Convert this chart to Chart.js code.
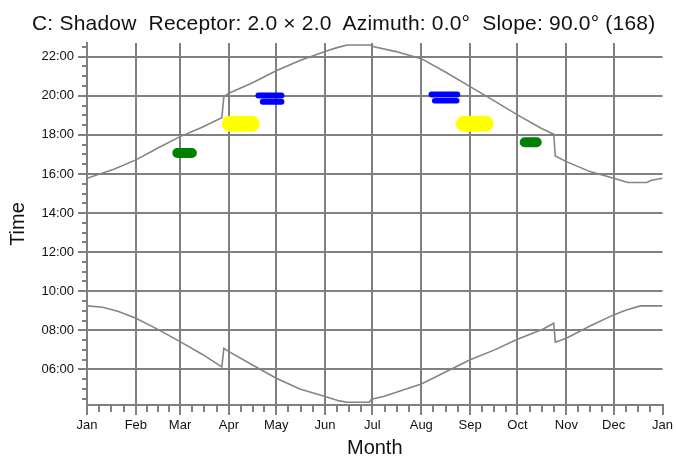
<!DOCTYPE html>
<html>
<head>
<meta charset="utf-8">
<script src="https://cdn.jsdelivr.net/npm/chart.js@4.4.0/dist/chart.umd.min.js"></script>
<style>
  html, body { margin: 0; padding: 0; background: #fff; }
  #wrap { position: relative; width: 676px; height: 459px; }
  #title {
    position: absolute; left: 32px; top: 12px;
    font: 21px "Liberation Sans", Arial, sans-serif; line-height: 21px;
    letter-spacing: 0.2px; color: #111; white-space: pre;
  }
  canvas { position: absolute; left: 0; top: 0; }
</style>
</head>
<body>
<div id="wrap">
  <canvas id="c" width="676" height="459"></canvas>
  <div id="title">C: Shadow  Receptor: 2.0 × 2.0  Azimuth: 0.0°  Slope: 90.0° (168)</div>
</div>
<script>
// axis ticks (day of year for month starts, hours for time grid)
const monthLabels = ["Jan", "Feb", "Mar", "Apr", "May", "Jun", "Jul", "Aug", "Sep", "Oct", "Nov", "Dec", "Jan"];
const monthStarts = [0, 31, 59, 90, 120, 151, 181, 212, 243, 273, 304, 334, 365];
const hourTicks = [6, 8, 10, 12, 14, 16, 18, 20, 22];

// sunset line (upper curve), hours
const sunsetDays  = [0, 17, 31, 45, 59, 73, 85.5, 86.8, 90, 105, 120, 135, 151, 158, 165, 180, 182, 196, 212, 227, 243, 258, 273, 288, 296, 297, 304, 319, 334, 343, 355, 358, 365];
const sunsetHours = [15.78, 16.24, 16.72, 17.33, 17.91, 18.39, 18.88, 19.95, 20.13, 20.67, 21.28, 21.8, 22.26, 22.45, 22.6, 22.6, 22.51, 22.26, 21.9, 21.23, 20.47, 19.75, 19.02, 18.34, 18.03, 16.92, 16.63, 16.12, 15.78, 15.56, 15.56, 15.68, 15.78];

// sunrise line (lower curve), hours
const sunriseDays  = [0, 10, 20, 31, 45, 59, 73, 85.5, 86.8, 90, 105, 120, 135, 151, 160, 165, 179, 180.4, 188, 200.5, 212, 228, 243, 258.5, 273, 289, 296, 297, 304, 319, 334, 342, 351, 365];
const sunriseHours = [9.25, 9.18, 8.96, 8.62, 8.05, 7.42, 6.78, 6.13, 7.08, 6.91, 6.23, 5.55, 5.0, 4.61, 4.39, 4.32, 4.32, 4.48, 4.61, 4.95, 5.26, 5.89, 6.49, 7.0, 7.54, 8.06, 8.36, 7.39, 7.6, 8.22, 8.79, 9.04, 9.25, 9.25];

// shadow periods: [first day, last day] and time of day
const shadowDays  = [[57.3, 66.5], [277.6, 285.2], [90.6, 104.4], [239, 252.7], [108.7, 123.3], [111.5, 123.3], [218.5, 234.8], [220.5, 234.5]];
const shadowHours = [17.07, 17.62, 18.57, 18.57, 20.02, 19.70, 20.06, 19.74];
// style per shadow period
const shadowStyle = [
  { color: "#008000", width: 10 }, { color: "#008000", width: 10 },
  { color: "#ffff00", width: 16 }, { color: "#ffff00", width: 16 },
  { color: "#0000ff", width: 6 },  { color: "#0000ff", width: 6 },
  { color: "#0000ff", width: 6 },  { color: "#0000ff", width: 5.5 }
];

const FONT = "'Liberation Sans', Arial, sans-serif";
const GRID = "#808080";
const TXT = "#111";

const pad2 = n => String(n).padStart(2, "0");
const toXY = (xs, ys) => xs.map((d, i) => ({ x: d, y: ys[i] }));

const shadowSets = shadowDays.map((d, i) => ({
  type: "line",
  data: toXY(d, [shadowHours[i], shadowHours[i]]),
  borderColor: shadowStyle[i].color,
  borderWidth: shadowStyle[i].width,
  borderCapStyle: "round",
  pointRadius: 0,
  xAxisID: "x", yAxisID: "y",
  order: 2
}));

const curveSet = (xs, ys) => ({
  type: "line",
  data: toXY(xs, ys),
  borderColor: "#848484",
  borderWidth: 1.6,
  pointRadius: 0,
  tension: 0,
  xAxisID: "x", yAxisID: "y",
  order: 1
});

new Chart(document.getElementById("c"), {
  type: "line",
  data: {
    datasets: [curveSet(sunsetDays, sunsetHours), curveSet(sunriseDays, sunriseHours), ...shadowSets]
  },
  options: {
    responsive: false,
    animation: false,
    layout: { padding: { left: 0, top: 43, right: 13, bottom: 0 } },
    plugins: { legend: { display: false }, tooltip: { enabled: false }, title: { display: false } },
    scales: {
      x: {
        type: "linear", position: "bottom", min: 0, max: 365, weight: 1,
        afterBuildTicks: s => { s.ticks = monthStarts.map(v => ({ value: v })); },
        afterFit: s => { s.height = 54; },
        grid: {
          color: c => (c.tick && c.tick.value === 365) ? "rgba(0,0,0,0)" : GRID,
          tickColor: GRID, lineWidth: 2, tickWidth: 2, tickLength: 10
        },
        border: { color: GRID, width: 2 },
        ticks: {
          autoSkip: false, maxRotation: 0, padding: 3, color: TXT,
          font: { size: 13, family: FONT },
          callback: (v, i) => monthLabels[i]
        },
        title: { display: true, text: "Month", color: TXT, font: { size: 20, family: FONT, lineHeight: 1 }, padding: { top: 0, bottom: 1 } }
      },
      xm: {
        type: "linear", position: "bottom", min: 0, max: 365, weight: 0,
        afterBuildTicks: s => {
          const t = [];
          for (let i = 0; i < 12; i++) {
            const len = monthStarts[i + 1] - monthStarts[i];
            for (let q = 1; q < 4; q++) t.push({ value: monthStarts[i] + q * len / 4 });
          }
          s.ticks = t;
        },
        afterFit: s => { s.height = 0; },
        grid: { drawOnChartArea: false, color: GRID, lineWidth: 2, tickLength: 7 },
        border: { display: false },
        ticks: { display: false }
      },
      y: {
        type: "linear", position: "left", min: 4.18, max: 22.7, weight: 1,
        afterBuildTicks: s => { s.ticks = hourTicks.map(v => ({ value: v })); },
        afterFit: s => { s.width = 87; },
        grid: { color: GRID, lineWidth: 2, tickWidth: 2, tickLength: 9 },
        border: { color: GRID, width: 2 },
        ticks: {
          padding: 4, color: TXT,
          font: { size: 13, family: FONT },
          callback: v => pad2(v) + ":00"
        },
        title: { display: true, text: "Time", color: TXT, font: { size: 20, family: FONT, lineHeight: 1 }, padding: { top: 8, bottom: 0 } }
      },
      ym: {
        type: "linear", position: "left", min: 4.18, max: 22.7, weight: 0,
        afterBuildTicks: s => {
          const t = [];
          for (let h = 4.5; h <= 22.5; h += 0.5) if (h % 2 !== 0) t.push({ value: h });
          s.ticks = t;
        },
        afterFit: s => { s.width = 0; },
        grid: { drawOnChartArea: false, color: GRID, lineWidth: 2, tickLength: 5 },
        border: { display: false },
        ticks: { display: false }
      }
    }
  }
});
</script>
</body>
</html>
